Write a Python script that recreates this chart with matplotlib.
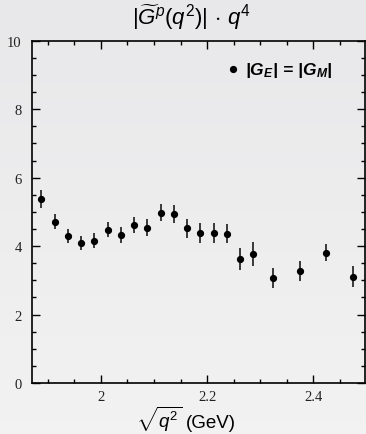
import numpy as np
import matplotlib
matplotlib.use("Agg")
import matplotlib.pyplot as plt
from matplotlib.ticker import MultipleLocator

# sqrt(q^2) in GeV and |G| * q^4 with its uncertainty
sqrt_q2 = [1.8875, 1.9125, 1.9375, 1.9625, 1.9875, 2.0125, 2.0375, 2.0625,
           2.0875, 2.1125, 2.1375, 2.1625, 2.1875, 2.2125, 2.2375, 2.2625,
           2.2875, 2.325, 2.375, 2.425, 2.475]
g_q4 = [5.37, 4.71, 4.30, 4.09, 4.16, 4.48, 4.32, 4.61,
        4.54, 4.98, 4.94, 4.52, 4.39, 4.39, 4.36, 3.61,
        3.77, 3.06, 3.27, 3.80, 3.11]
g_err = [0.27, 0.22, 0.21, 0.21, 0.22, 0.22, 0.24, 0.24,
         0.25, 0.26, 0.26, 0.27, 0.29, 0.29, 0.28, 0.32,
         0.34, 0.29, 0.29, 0.25, 0.30]

plt.rcParams["mathtext.fontset"] = "custom"
plt.rcParams["mathtext.rm"] = "Liberation Sans"
plt.rcParams["mathtext.it"] = "Liberation Sans:italic"
plt.rcParams["mathtext.bf"] = "Liberation Sans:italic:bold"
plt.rcParams["mathtext.sf"] = "Liberation Sans"

W, H = 366, 435
fig = plt.figure(figsize=(W / 100, H / 100), dpi=100)

# soft vertical grey gradient behind everything
bg = fig.add_axes([0, 0, 1, 1], zorder=-10)
grad = np.linspace(0, 1, 256).reshape(-1, 1)
top_c = np.array([0.910, 0.910, 0.918])
bot_c = np.array([0.950, 0.950, 0.950])
img = top_c[None, None, :] * (1 - grad[:, :, None]) + bot_c[None, None, :] * grad[:, :, None]
bg.imshow(img, aspect="auto", extent=[0, 1, 0, 1])
bg.set_axis_off()

ax = fig.add_axes([31.5 / W, 1 - 384 / H, 333 / W, 342.3 / H])
ax.set_facecolor("none")

ax.errorbar(sqrt_q2, g_q4, yerr=g_err, fmt="o", color="black", ms=4.2,
            ecolor="#3a3a3a", elinewidth=1.4, capsize=0, zorder=3)

ax.set_xlim(1.869, 2.497)
ax.set_ylim(0, 10)
ax.xaxis.set_major_locator(MultipleLocator(0.2))
ax.xaxis.set_minor_locator(MultipleLocator(0.05))
ax.yaxis.set_major_locator(MultipleLocator(2))
ax.yaxis.set_minor_locator(MultipleLocator(0.5))
ax.set_xticks([2.0, 2.2, 2.4])
ax.set_xticklabels(["2", "2.2", "2.4"])

for s in ax.spines.values():
    s.set_linewidth(1.2)
    s.set_color("black")

ax.tick_params(which="both", direction="in", top=True, right=True, width=1.0)
ax.tick_params(which="major", length=5.5)
ax.tick_params(which="minor", length=3)
ax.tick_params(axis="y", pad=7)
ax.tick_params(axis="x", pad=5)
for lab in ax.get_xticklabels() + ax.get_yticklabels():
    lab.set_fontfamily("Liberation Serif")
    lab.set_fontsize(10.5)
    lab.set_color("#222222")

fig.text(191 / W, 1 - 18 / H, r"$|\widetilde{G}^{p}(q^2)|\,\cdot\, q^4$",
         ha="center", va="center", fontsize=16)
# x-axis title: radical and unit set as two pieces on a common baseline
fig.text(182 / W, 1 - 428 / H, r"$\sqrt{q^2}$", ha="right",
         va="baseline", fontsize=13.5)
fig.text(186 / W, 1 - 428 / H, "(GeV)", ha="left",
         va="baseline", fontsize=13.5, family="Liberation Sans")

ax.plot([0.605], [0.916], "o", color="black", ms=4.2, transform=ax.transAxes)
ax.text(0.64, 0.916, r"$\mathbf{|G_E|\,=\,|G_M|}$", transform=ax.transAxes,
        ha="left", va="center", fontsize=12.5)

fig.savefig("out.png", dpi=100)
